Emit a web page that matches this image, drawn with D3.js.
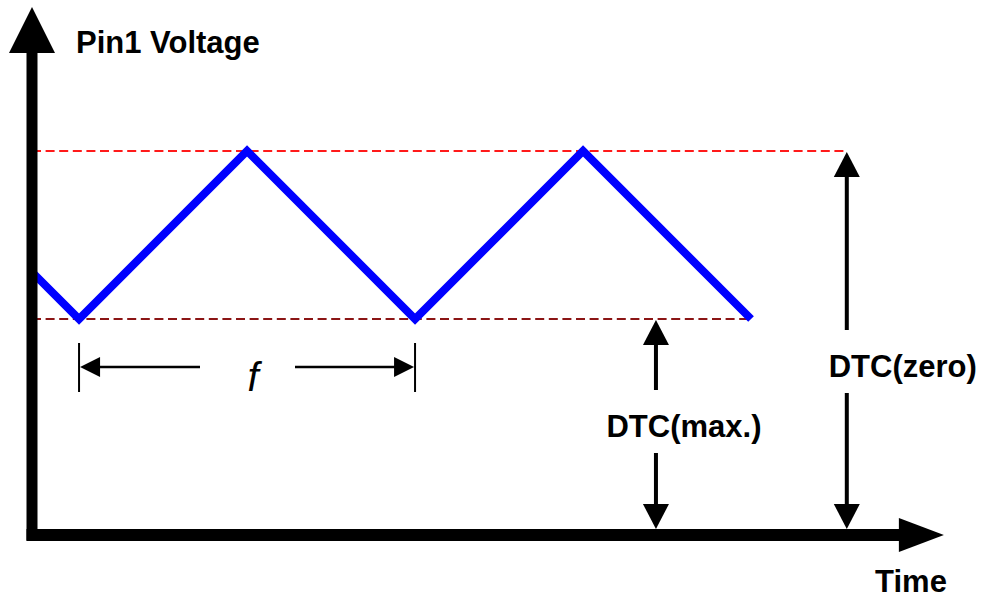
<!DOCTYPE html>
<html>
<head>
<meta charset="utf-8">
<script src="https://cdn.jsdelivr.net/npm/d3@7"></script>
<style>
  html, body { margin: 0; padding: 0; background: #ffffff; }
  svg { display: block; }
  text { font-family: "Liberation Sans", Arial, sans-serif; }
</style>
</head>
<body>
<svg id="chart" width="984" height="599"></svg>
<script>
// ---- data ----
const waveTimes   = [0, 0.14, 0.64, 1.14, 1.64, 2.14];   // time (periods)
const waveVolts   = [2.74, 2.25, 4.0, 2.25, 4.0, 2.25];  // Pin1 voltage
const levelNames  = ["DTC(zero)", "DTC(max.)"];
const levelVolts  = [4.0, 2.25];
const levelEndT   = [2.425, 2.14];
const arrowTimes  = [2.425, 1.857];
const periodStart = 0.14, periodEnd = 1.14;
const axisTitleY  = "Pin1 Voltage";
const axisTitleX  = "Time";
const periodLabel = "f";

// ---- scales ----
const W = 984, H = 599;
const x = d3.scaleLinear().domain([0, 1]).range([32, 368]);
const y = d3.scaleLinear().domain([0, 4]).range([535, 151]);
const svg = d3.select("#chart");

// ---- dashed reference levels ----
const levelColors = ["#ff1a1a", "#8b1515"];
svg.selectAll("line.level").data(levelVolts).join("line")
  .attr("class", "level")
  .attr("x1", x(0)).attr("x2", (d, i) => x(levelEndT[i]))
  .attr("y1", d => y(d)).attr("y2", d => y(d))
  .attr("stroke", (d, i) => levelColors[i])
  .attr("stroke-width", 1.8)
  .attr("stroke-dasharray", "9,4.6");

// ---- triangle wave ----
const pts = waveTimes.map((t, i) => [t, waveVolts[i]]);
svg.append("path")
  .datum(pts)
  .attr("fill", "none")
  .attr("stroke", "#0000ff")
  .attr("stroke-width", 8)
  .attr("stroke-linejoin", "miter")
  .attr("d", d3.line().x(d => x(d[0])).y(d => y(d[1])));

// ---- axes (thick arrows) ----
const axisTopV = 5.5, axisEndT = 2.714;
svg.append("line")
  .attr("x1", x(0)).attr("x2", x(0))
  .attr("y1", y(0) + 5.5).attr("y2", y(axisTopV) + 40)
  .attr("stroke", "#000").attr("stroke-width", 11);
svg.append("line")
  .attr("x1", x(0) - 5.5).attr("x2", x(axisEndT) - 40)
  .attr("y1", y(0)).attr("y2", y(0))
  .attr("stroke", "#000").attr("stroke-width", 12);
// arrowheads
svg.append("path")
  .attr("d", `M${x(0)},${y(axisTopV)} L${x(0) + 23},${y(axisTopV) + 46} L${x(0) - 23},${y(axisTopV) + 46} Z`)
  .attr("fill", "#000");
svg.append("path")
  .attr("d", `M${x(axisEndT)},${y(0)} L${x(axisEndT) - 45},${y(0) - 17} L${x(axisEndT) - 45},${y(0) + 17} Z`)
  .attr("fill", "#000");

// ---- axis titles ----
svg.append("text").attr("x", 76).attr("y", 53)
  .attr("font-size", 31).attr("font-weight", "bold").text(axisTitleY);
svg.append("text").attr("x", 911).attr("y", 592)
  .attr("text-anchor", "middle")
  .attr("font-size", 31).attr("font-weight", "bold").text(axisTitleX);

// ---- vertical double arrows for levels ----
function vArrowHead(cx, tipY, dir) { // dir: -1 up, +1 down
  const h = 25, w = 13;
  return `M${cx},${tipY} L${cx + w},${tipY - dir * h} L${cx - w},${tipY - dir * h} Z`;
}
const labelY = [377, 437];     // baselines
const gapTop = [330, 390];
const gapBot = [393, 453];
const axisTopEdge = y(0) - 6;
levelVolts.forEach((v, i) => {
  const cx = x(arrowTimes[i]);
  const g = svg.append("g");
  g.append("line").attr("x1", cx).attr("x2", cx)
    .attr("y1", y(v) + 20).attr("y2", gapTop[i])
    .attr("stroke", "#000").attr("stroke-width", 4);
  g.append("line").attr("x1", cx).attr("x2", cx)
    .attr("y1", gapBot[i]).attr("y2", axisTopEdge - 20)
    .attr("stroke", "#000").attr("stroke-width", 4);
  g.append("path").attr("d", vArrowHead(cx, y(v) + 1, -1)).attr("fill", "#000");
  g.append("path").attr("d", vArrowHead(cx, axisTopEdge, 1)).attr("fill", "#000");
  g.append("text")
    .attr("x", i === 0 ? cx + 56 : cx + 28).attr("y", labelY[i])
    .attr("text-anchor", "middle")
    .attr("font-size", 31).attr("font-weight", "bold")
    .text(levelNames[i]);
});

// ---- period (f) dimension ----
const fy = 367;
const x1 = x(periodStart), x2 = x(periodEnd);
const fg = svg.append("g");
[x1, x2].forEach(px => {
  fg.append("line").attr("x1", px).attr("x2", px)
    .attr("y1", 343).attr("y2", 392)
    .attr("stroke", "#000").attr("stroke-width", 2);
});
fg.append("line").attr("x1", x1 + 18).attr("x2", 200).attr("y1", fy).attr("y2", fy)
  .attr("stroke", "#000").attr("stroke-width", 2.5);
fg.append("line").attr("x1", 295).attr("x2", x2 - 18).attr("y1", fy).attr("y2", fy)
  .attr("stroke", "#000").attr("stroke-width", 2.5);
fg.append("path").attr("d", `M${x1 + 1},${fy} L${x1 + 21},${fy - 10} L${x1 + 21},${fy + 10} Z`).attr("fill", "#000");
fg.append("path").attr("d", `M${x2 - 1},${fy} L${x2 - 21},${fy - 10} L${x2 - 21},${fy + 10} Z`).attr("fill", "#000");
fg.append("text").attr("x", (x1 + x2) / 2 + 6).attr("y", 391)
  .attr("text-anchor", "middle")
  .attr("font-size", 40).attr("font-style", "italic")
  .text(periodLabel);
</script>
</body>
</html>
